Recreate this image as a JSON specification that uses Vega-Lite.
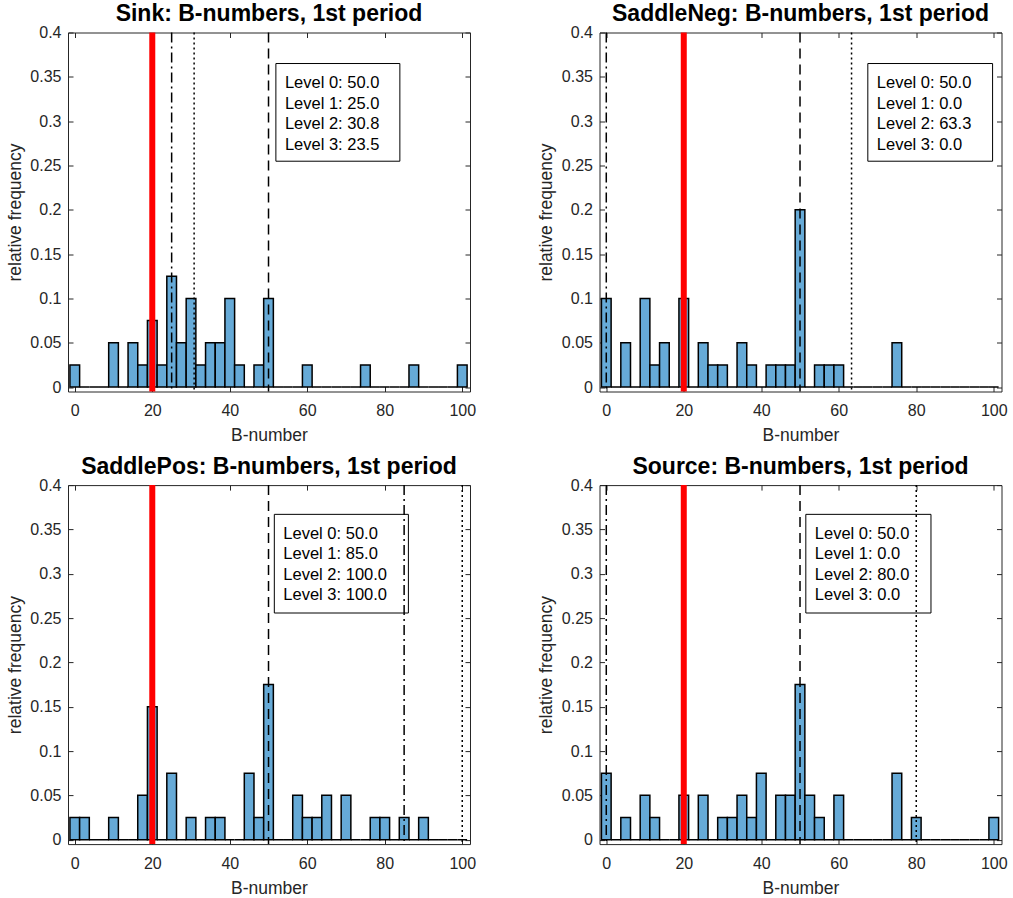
{
  "$schema": "https://vega.github.io/schema/vega-lite/v6.json",
  "background": "white",
  "padding": {"left": 5, "top": 2.5, "right": 5, "bottom": 2},
  "datasets": {
    "bins": [
      {"lo": -1.25, "hi": 1.25, "Sink": 0.025, "SaddleNeg": 0.1, "SaddlePos": 0.025, "Source": 0.075},
      {"lo": 1.25, "hi": 3.75, "Sink": 0, "SaddleNeg": 0, "SaddlePos": 0.025, "Source": 0},
      {"lo": 3.75, "hi": 6.25, "Sink": 0, "SaddleNeg": 0.05, "SaddlePos": 0, "Source": 0.025},
      {"lo": 6.25, "hi": 8.75, "Sink": 0, "SaddleNeg": 0, "SaddlePos": 0, "Source": 0},
      {"lo": 8.75, "hi": 11.25, "Sink": 0.05, "SaddleNeg": 0.1, "SaddlePos": 0.025, "Source": 0.05},
      {"lo": 11.25, "hi": 13.75, "Sink": 0, "SaddleNeg": 0.025, "SaddlePos": 0, "Source": 0.025},
      {"lo": 13.75, "hi": 16.25, "Sink": 0.05, "SaddleNeg": 0.05, "SaddlePos": 0, "Source": 0},
      {"lo": 16.25, "hi": 18.75, "Sink": 0.025, "SaddleNeg": 0, "SaddlePos": 0.05, "Source": 0},
      {"lo": 18.75, "hi": 21.25, "Sink": 0.075, "SaddleNeg": 0.1, "SaddlePos": 0.15, "Source": 0.05},
      {"lo": 21.25, "hi": 23.75, "Sink": 0.025, "SaddleNeg": 0, "SaddlePos": 0, "Source": 0},
      {"lo": 23.75, "hi": 26.25, "Sink": 0.125, "SaddleNeg": 0.05, "SaddlePos": 0.075, "Source": 0.05},
      {"lo": 26.25, "hi": 28.75, "Sink": 0.05, "SaddleNeg": 0.025, "SaddlePos": 0, "Source": 0},
      {"lo": 28.75, "hi": 31.25, "Sink": 0.1, "SaddleNeg": 0.025, "SaddlePos": 0.025, "Source": 0.025},
      {"lo": 31.25, "hi": 33.75, "Sink": 0.025, "SaddleNeg": 0, "SaddlePos": 0, "Source": 0.025},
      {"lo": 33.75, "hi": 36.25, "Sink": 0.05, "SaddleNeg": 0.05, "SaddlePos": 0.025, "Source": 0.05},
      {"lo": 36.25, "hi": 38.75, "Sink": 0.05, "SaddleNeg": 0.025, "SaddlePos": 0.025, "Source": 0.025},
      {"lo": 38.75, "hi": 41.25, "Sink": 0.1, "SaddleNeg": 0, "SaddlePos": 0, "Source": 0.075},
      {"lo": 41.25, "hi": 43.75, "Sink": 0.025, "SaddleNeg": 0.025, "SaddlePos": 0, "Source": 0},
      {"lo": 43.75, "hi": 46.25, "Sink": 0, "SaddleNeg": 0.025, "SaddlePos": 0.075, "Source": 0.05},
      {"lo": 46.25, "hi": 48.75, "Sink": 0.025, "SaddleNeg": 0.025, "SaddlePos": 0.025, "Source": 0.05},
      {"lo": 48.75, "hi": 51.25, "Sink": 0.1, "SaddleNeg": 0.2, "SaddlePos": 0.175, "Source": 0.175},
      {"lo": 51.25, "hi": 53.75, "Sink": 0, "SaddleNeg": 0, "SaddlePos": 0, "Source": 0.05},
      {"lo": 53.75, "hi": 56.25, "Sink": 0, "SaddleNeg": 0.025, "SaddlePos": 0, "Source": 0.025},
      {"lo": 56.25, "hi": 58.75, "Sink": 0, "SaddleNeg": 0.025, "SaddlePos": 0.05, "Source": 0},
      {"lo": 58.75, "hi": 61.25, "Sink": 0.025, "SaddleNeg": 0.025, "SaddlePos": 0.025, "Source": 0.05},
      {"lo": 61.25, "hi": 63.75, "Sink": 0, "SaddleNeg": 0, "SaddlePos": 0.025, "Source": 0},
      {"lo": 63.75, "hi": 66.25, "Sink": 0, "SaddleNeg": 0, "SaddlePos": 0.05, "Source": 0},
      {"lo": 66.25, "hi": 68.75, "Sink": 0, "SaddleNeg": 0, "SaddlePos": 0, "Source": 0},
      {"lo": 68.75, "hi": 71.25, "Sink": 0, "SaddleNeg": 0, "SaddlePos": 0.05, "Source": 0},
      {"lo": 71.25, "hi": 73.75, "Sink": 0, "SaddleNeg": 0, "SaddlePos": 0, "Source": 0},
      {"lo": 73.75, "hi": 76.25, "Sink": 0.025, "SaddleNeg": 0.05, "SaddlePos": 0, "Source": 0.075},
      {"lo": 76.25, "hi": 78.75, "Sink": 0, "SaddleNeg": 0, "SaddlePos": 0.025, "Source": 0},
      {"lo": 78.75, "hi": 81.25, "Sink": 0, "SaddleNeg": 0, "SaddlePos": 0.025, "Source": 0.025},
      {"lo": 81.25, "hi": 83.75, "Sink": 0, "SaddleNeg": 0, "SaddlePos": 0, "Source": 0},
      {"lo": 83.75, "hi": 86.25, "Sink": 0, "SaddleNeg": 0, "SaddlePos": 0.025, "Source": 0},
      {"lo": 86.25, "hi": 88.75, "Sink": 0.025, "SaddleNeg": 0, "SaddlePos": 0, "Source": 0},
      {"lo": 88.75, "hi": 91.25, "Sink": 0, "SaddleNeg": 0, "SaddlePos": 0.025, "Source": 0},
      {"lo": 91.25, "hi": 93.75, "Sink": 0, "SaddleNeg": 0, "SaddlePos": 0, "Source": 0},
      {"lo": 93.75, "hi": 96.25, "Sink": 0, "SaddleNeg": 0, "SaddlePos": 0, "Source": 0},
      {"lo": 96.25, "hi": 98.75, "Sink": 0, "SaddleNeg": 0, "SaddlePos": 0, "Source": 0},
      {"lo": 98.75, "hi": 101.25, "Sink": 0.025, "SaddleNeg": 0, "SaddlePos": 0, "Source": 0.025}
    ],
    "levels": [
      {"p": "Sink", "lvl": "ref", "v": 20},
      {"p": "Sink", "lvl": "Level 0", "v": 50},
      {"p": "Sink", "lvl": "Level 1", "v": 25},
      {"p": "Sink", "lvl": "Level 2", "v": 30.8},
      {"p": "SaddleNeg", "lvl": "ref", "v": 20},
      {"p": "SaddleNeg", "lvl": "Level 0", "v": 50},
      {"p": "SaddleNeg", "lvl": "Level 1", "v": 0},
      {"p": "SaddleNeg", "lvl": "Level 2", "v": 63.3},
      {"p": "SaddlePos", "lvl": "ref", "v": 20},
      {"p": "SaddlePos", "lvl": "Level 0", "v": 50},
      {"p": "SaddlePos", "lvl": "Level 1", "v": 85},
      {"p": "SaddlePos", "lvl": "Level 2", "v": 100},
      {"p": "Source", "lvl": "ref", "v": 20},
      {"p": "Source", "lvl": "Level 0", "v": 50},
      {"p": "Source", "lvl": "Level 1", "v": 0},
      {"p": "Source", "lvl": "Level 2", "v": 80}
    ],
    "boxes": [
      {"p": "Sink", "x1": 51.9, "x2": 83.9, "y1": 0.365, "y2": 0.2548, "txt": ["Level 0: 50.0", "Level 1: 25.0", "Level 2: 30.8", "Level 3: 23.5"]},
      {"p": "SaddleNeg", "x1": 67.5, "x2": 99.7, "y1": 0.365, "y2": 0.2548, "txt": ["Level 0: 50.0", "Level 1: 0.0", "Level 2: 63.3", "Level 3: 0.0"]},
      {"p": "SaddlePos", "x1": 51.5, "x2": 86.1, "y1": 0.367, "y2": 0.2557, "txt": ["Level 0: 50.0", "Level 1: 85.0", "Level 2: 100.0", "Level 3: 100.0"]},
      {"p": "Source", "x1": 51.5, "x2": 83.8, "y1": 0.367, "y2": 0.2557, "txt": ["Level 0: 50.0", "Level 1: 0.0", "Level 2: 80.0", "Level 3: 0.0"]}
    ]
  },
  "config": {
    "view": {"stroke": "#262626", "strokeWidth": 1},
    "axis": {
      "grid": false, "domain": false, "tickSize": -5, "tickColor": "#262626", "tickWidth": 1,
      "labelColor": "#262626", "titleColor": "#262626", "labelFont": "Liberation Sans", "titleFont": "Liberation Sans",
      "labelFontSize": 16, "titleFontSize": 17.5, "titleFontWeight": "normal", "labelFlush": false, "labelOverlap": false
    },
    "axisBottom": {"labelPadding": 16, "titlePadding": 8},
    "axisLeft": {"labelPadding": 12, "titlePadding": 5.5},
    "title": {"font": "Liberation Sans", "fontSize": 23, "fontWeight": "bold", "color": "#000000", "offset": -1.5, "baseline": "alphabetic", "anchor": "middle"}
  },
  "columns": 2,
  "spacing": {"row": 93.6, "column": 129.5},
  "bounds": "flush",
  "concat": [
    {
      "width": 402, "height": 359,
      "title": "Sink: B-numbers, 1st period",
      "layer": [
        {"data": {"name": "bins"},
         "mark": {"type": "rect", "fill": "#66AAD7", "stroke": "#000000", "strokeWidth": 1.5},
         "encoding": {
           "x": {"field": "lo", "type": "quantitative", "scale": {"domain": [-1.75, 102], "nice": false, "zero": false}, "axis": {"orient": "bottom", "values": [0, 20, 40, 60, 80, 100], "title": "B-number"}},
           "x2": {"field": "hi"},
           "y": {"field": "Sink", "type": "quantitative", "scale": {"domain": [-0.005, 0.4], "nice": false, "zero": false}, "axis": {"orient": "left", "values": [0, 0.05, 0.1, 0.15, 0.2, 0.25, 0.3, 0.35, 0.4], "format": ".2~f", "title": "relative frequency"}},
           "y2": {"datum": 0}
         }},
        {"data": {"name": "levels"}, "transform": [{"filter": "datum.p === 'Sink' && datum.lvl === 'ref'"}],
         "mark": {"type": "rule", "color": "#FF0000", "strokeWidth": 6},
         "encoding": {"x": {"field": "v", "type": "quantitative", "axis": null}}},
        {"data": {"name": "levels"}, "transform": [{"filter": "datum.p === 'Sink' && datum.lvl !== 'ref'"}],
         "mark": {"type": "rule", "color": "#000000", "strokeWidth": 1.5},
         "encoding": {"x": {"field": "v", "type": "quantitative", "axis": null},
           "strokeDash": {"field": "lvl", "type": "nominal", "scale": {"domain": ["Level 0", "Level 1", "Level 2"], "range": [[10, 6], [10, 4, 2, 4], [2, 3]]}, "legend": null}}},
        {"data": {"name": "boxes"}, "transform": [{"filter": "datum.p === 'Sink'"}],
         "mark": {"type": "rect", "fillOpacity": 0, "fill": "white", "stroke": "#000000", "strokeWidth": 1},
         "encoding": {"x": {"field": "x1", "type": "quantitative", "axis": null}, "x2": {"field": "x2"}, "y": {"field": "y1", "type": "quantitative", "axis": null}, "y2": {"field": "y2"}}},
        {"data": {"name": "boxes"}, "transform": [{"filter": "datum.p === 'Sink'"}],
         "mark": {"type": "text", "align": "left", "baseline": "top", "dx": 9, "dy": 11.5, "fontSize": 16.5, "lineHeight": 20.5, "font": "Liberation Sans", "color": "#000000"},
         "encoding": {"x": {"field": "x1", "type": "quantitative", "axis": null}, "y": {"field": "y1", "type": "quantitative", "axis": null}, "text": {"field": "txt"}}},
        {"data": {"name": "bins"},
         "mark": {"type": "point", "opacity": 0},
         "encoding": {
           "x": {"field": "lo", "type": "quantitative", "axis": {"orient": "top", "values": [0, 20, 40, 60, 80, 100], "labels": false, "title": null}},
           "y": {"field": "Sink", "type": "quantitative", "axis": {"orient": "right", "values": [0, 0.05, 0.1, 0.15, 0.2, 0.25, 0.3, 0.35, 0.4], "labels": false, "title": null}}
         }}
      ],
      "resolve": {"axis": {"x": "independent", "y": "independent"}}
    },
    {
      "width": 402, "height": 359,
      "title": "SaddleNeg: B-numbers, 1st period",
      "layer": [
        {"data": {"name": "bins"},
         "mark": {"type": "rect", "fill": "#66AAD7", "stroke": "#000000", "strokeWidth": 1.5},
         "encoding": {
           "x": {"field": "lo", "type": "quantitative", "scale": {"domain": [-1.75, 102], "nice": false, "zero": false}, "axis": {"orient": "bottom", "values": [0, 20, 40, 60, 80, 100], "title": "B-number"}},
           "x2": {"field": "hi"},
           "y": {"field": "SaddleNeg", "type": "quantitative", "scale": {"domain": [-0.005, 0.4], "nice": false, "zero": false}, "axis": {"orient": "left", "values": [0, 0.05, 0.1, 0.15, 0.2, 0.25, 0.3, 0.35, 0.4], "format": ".2~f", "title": "relative frequency"}},
           "y2": {"datum": 0}
         }},
        {"data": {"name": "levels"}, "transform": [{"filter": "datum.p === 'SaddleNeg' && datum.lvl === 'ref'"}],
         "mark": {"type": "rule", "color": "#FF0000", "strokeWidth": 6},
         "encoding": {"x": {"field": "v", "type": "quantitative", "axis": null}}},
        {"data": {"name": "levels"}, "transform": [{"filter": "datum.p === 'SaddleNeg' && datum.lvl !== 'ref'"}],
         "mark": {"type": "rule", "color": "#000000", "strokeWidth": 1.5},
         "encoding": {"x": {"field": "v", "type": "quantitative", "axis": null},
           "strokeDash": {"field": "lvl", "type": "nominal", "scale": {"domain": ["Level 0", "Level 1", "Level 2"], "range": [[10, 6], [10, 4, 2, 4], [2, 3]]}, "legend": null}}},
        {"data": {"name": "boxes"}, "transform": [{"filter": "datum.p === 'SaddleNeg'"}],
         "mark": {"type": "rect", "fillOpacity": 0, "fill": "white", "stroke": "#000000", "strokeWidth": 1},
         "encoding": {"x": {"field": "x1", "type": "quantitative", "axis": null}, "x2": {"field": "x2"}, "y": {"field": "y1", "type": "quantitative", "axis": null}, "y2": {"field": "y2"}}},
        {"data": {"name": "boxes"}, "transform": [{"filter": "datum.p === 'SaddleNeg'"}],
         "mark": {"type": "text", "align": "left", "baseline": "top", "dx": 9, "dy": 11.5, "fontSize": 16.5, "lineHeight": 20.5, "font": "Liberation Sans", "color": "#000000"},
         "encoding": {"x": {"field": "x1", "type": "quantitative", "axis": null}, "y": {"field": "y1", "type": "quantitative", "axis": null}, "text": {"field": "txt"}}},
        {"data": {"name": "bins"},
         "mark": {"type": "point", "opacity": 0},
         "encoding": {
           "x": {"field": "lo", "type": "quantitative", "axis": {"orient": "top", "values": [0, 20, 40, 60, 80, 100], "labels": false, "title": null}},
           "y": {"field": "SaddleNeg", "type": "quantitative", "axis": {"orient": "right", "values": [0, 0.05, 0.1, 0.15, 0.2, 0.25, 0.3, 0.35, 0.4], "labels": false, "title": null}}
         }}
      ],
      "resolve": {"axis": {"x": "independent", "y": "independent"}}
    },
    {
      "width": 402, "height": 359,
      "title": "SaddlePos: B-numbers, 1st period",
      "layer": [
        {"data": {"name": "bins"},
         "mark": {"type": "rect", "fill": "#66AAD7", "stroke": "#000000", "strokeWidth": 1.5},
         "encoding": {
           "x": {"field": "lo", "type": "quantitative", "scale": {"domain": [-1.75, 102], "nice": false, "zero": false}, "axis": {"orient": "bottom", "values": [0, 20, 40, 60, 80, 100], "title": "B-number"}},
           "x2": {"field": "hi"},
           "y": {"field": "SaddlePos", "type": "quantitative", "scale": {"domain": [-0.005, 0.4], "nice": false, "zero": false}, "axis": {"orient": "left", "values": [0, 0.05, 0.1, 0.15, 0.2, 0.25, 0.3, 0.35, 0.4], "format": ".2~f", "title": "relative frequency"}},
           "y2": {"datum": 0}
         }},
        {"data": {"name": "levels"}, "transform": [{"filter": "datum.p === 'SaddlePos' && datum.lvl === 'ref'"}],
         "mark": {"type": "rule", "color": "#FF0000", "strokeWidth": 6},
         "encoding": {"x": {"field": "v", "type": "quantitative", "axis": null}}},
        {"data": {"name": "levels"}, "transform": [{"filter": "datum.p === 'SaddlePos' && datum.lvl !== 'ref'"}],
         "mark": {"type": "rule", "color": "#000000", "strokeWidth": 1.5},
         "encoding": {"x": {"field": "v", "type": "quantitative", "axis": null},
           "strokeDash": {"field": "lvl", "type": "nominal", "scale": {"domain": ["Level 0", "Level 1", "Level 2"], "range": [[10, 6], [10, 4, 2, 4], [2, 3]]}, "legend": null}}},
        {"data": {"name": "boxes"}, "transform": [{"filter": "datum.p === 'SaddlePos'"}],
         "mark": {"type": "rect", "fillOpacity": 0, "fill": "white", "stroke": "#000000", "strokeWidth": 1},
         "encoding": {"x": {"field": "x1", "type": "quantitative", "axis": null}, "x2": {"field": "x2"}, "y": {"field": "y1", "type": "quantitative", "axis": null}, "y2": {"field": "y2"}}},
        {"data": {"name": "boxes"}, "transform": [{"filter": "datum.p === 'SaddlePos'"}],
         "mark": {"type": "text", "align": "left", "baseline": "top", "dx": 9, "dy": 11.5, "fontSize": 16.5, "lineHeight": 20.5, "font": "Liberation Sans", "color": "#000000"},
         "encoding": {"x": {"field": "x1", "type": "quantitative", "axis": null}, "y": {"field": "y1", "type": "quantitative", "axis": null}, "text": {"field": "txt"}}},
        {"data": {"name": "bins"},
         "mark": {"type": "point", "opacity": 0},
         "encoding": {
           "x": {"field": "lo", "type": "quantitative", "axis": {"orient": "top", "values": [0, 20, 40, 60, 80, 100], "labels": false, "title": null}},
           "y": {"field": "SaddlePos", "type": "quantitative", "axis": {"orient": "right", "values": [0, 0.05, 0.1, 0.15, 0.2, 0.25, 0.3, 0.35, 0.4], "labels": false, "title": null}}
         }}
      ],
      "resolve": {"axis": {"x": "independent", "y": "independent"}}
    },
    {
      "width": 402, "height": 359,
      "title": "Source: B-numbers, 1st period",
      "layer": [
        {"data": {"name": "bins"},
         "mark": {"type": "rect", "fill": "#66AAD7", "stroke": "#000000", "strokeWidth": 1.5},
         "encoding": {
           "x": {"field": "lo", "type": "quantitative", "scale": {"domain": [-1.75, 102], "nice": false, "zero": false}, "axis": {"orient": "bottom", "values": [0, 20, 40, 60, 80, 100], "title": "B-number"}},
           "x2": {"field": "hi"},
           "y": {"field": "Source", "type": "quantitative", "scale": {"domain": [-0.005, 0.4], "nice": false, "zero": false}, "axis": {"orient": "left", "values": [0, 0.05, 0.1, 0.15, 0.2, 0.25, 0.3, 0.35, 0.4], "format": ".2~f", "title": "relative frequency"}},
           "y2": {"datum": 0}
         }},
        {"data": {"name": "levels"}, "transform": [{"filter": "datum.p === 'Source' && datum.lvl === 'ref'"}],
         "mark": {"type": "rule", "color": "#FF0000", "strokeWidth": 6},
         "encoding": {"x": {"field": "v", "type": "quantitative", "axis": null}}},
        {"data": {"name": "levels"}, "transform": [{"filter": "datum.p === 'Source' && datum.lvl !== 'ref'"}],
         "mark": {"type": "rule", "color": "#000000", "strokeWidth": 1.5},
         "encoding": {"x": {"field": "v", "type": "quantitative", "axis": null},
           "strokeDash": {"field": "lvl", "type": "nominal", "scale": {"domain": ["Level 0", "Level 1", "Level 2"], "range": [[10, 6], [10, 4, 2, 4], [2, 3]]}, "legend": null}}},
        {"data": {"name": "boxes"}, "transform": [{"filter": "datum.p === 'Source'"}],
         "mark": {"type": "rect", "fillOpacity": 0, "fill": "white", "stroke": "#000000", "strokeWidth": 1},
         "encoding": {"x": {"field": "x1", "type": "quantitative", "axis": null}, "x2": {"field": "x2"}, "y": {"field": "y1", "type": "quantitative", "axis": null}, "y2": {"field": "y2"}}},
        {"data": {"name": "boxes"}, "transform": [{"filter": "datum.p === 'Source'"}],
         "mark": {"type": "text", "align": "left", "baseline": "top", "dx": 9, "dy": 11.5, "fontSize": 16.5, "lineHeight": 20.5, "font": "Liberation Sans", "color": "#000000"},
         "encoding": {"x": {"field": "x1", "type": "quantitative", "axis": null}, "y": {"field": "y1", "type": "quantitative", "axis": null}, "text": {"field": "txt"}}},
        {"data": {"name": "bins"},
         "mark": {"type": "point", "opacity": 0},
         "encoding": {
           "x": {"field": "lo", "type": "quantitative", "axis": {"orient": "top", "values": [0, 20, 40, 60, 80, 100], "labels": false, "title": null}},
           "y": {"field": "Source", "type": "quantitative", "axis": {"orient": "right", "values": [0, 0.05, 0.1, 0.15, 0.2, 0.25, 0.3, 0.35, 0.4], "labels": false, "title": null}}
         }}
      ],
      "resolve": {"axis": {"x": "independent", "y": "independent"}}
    }
  ]
}
